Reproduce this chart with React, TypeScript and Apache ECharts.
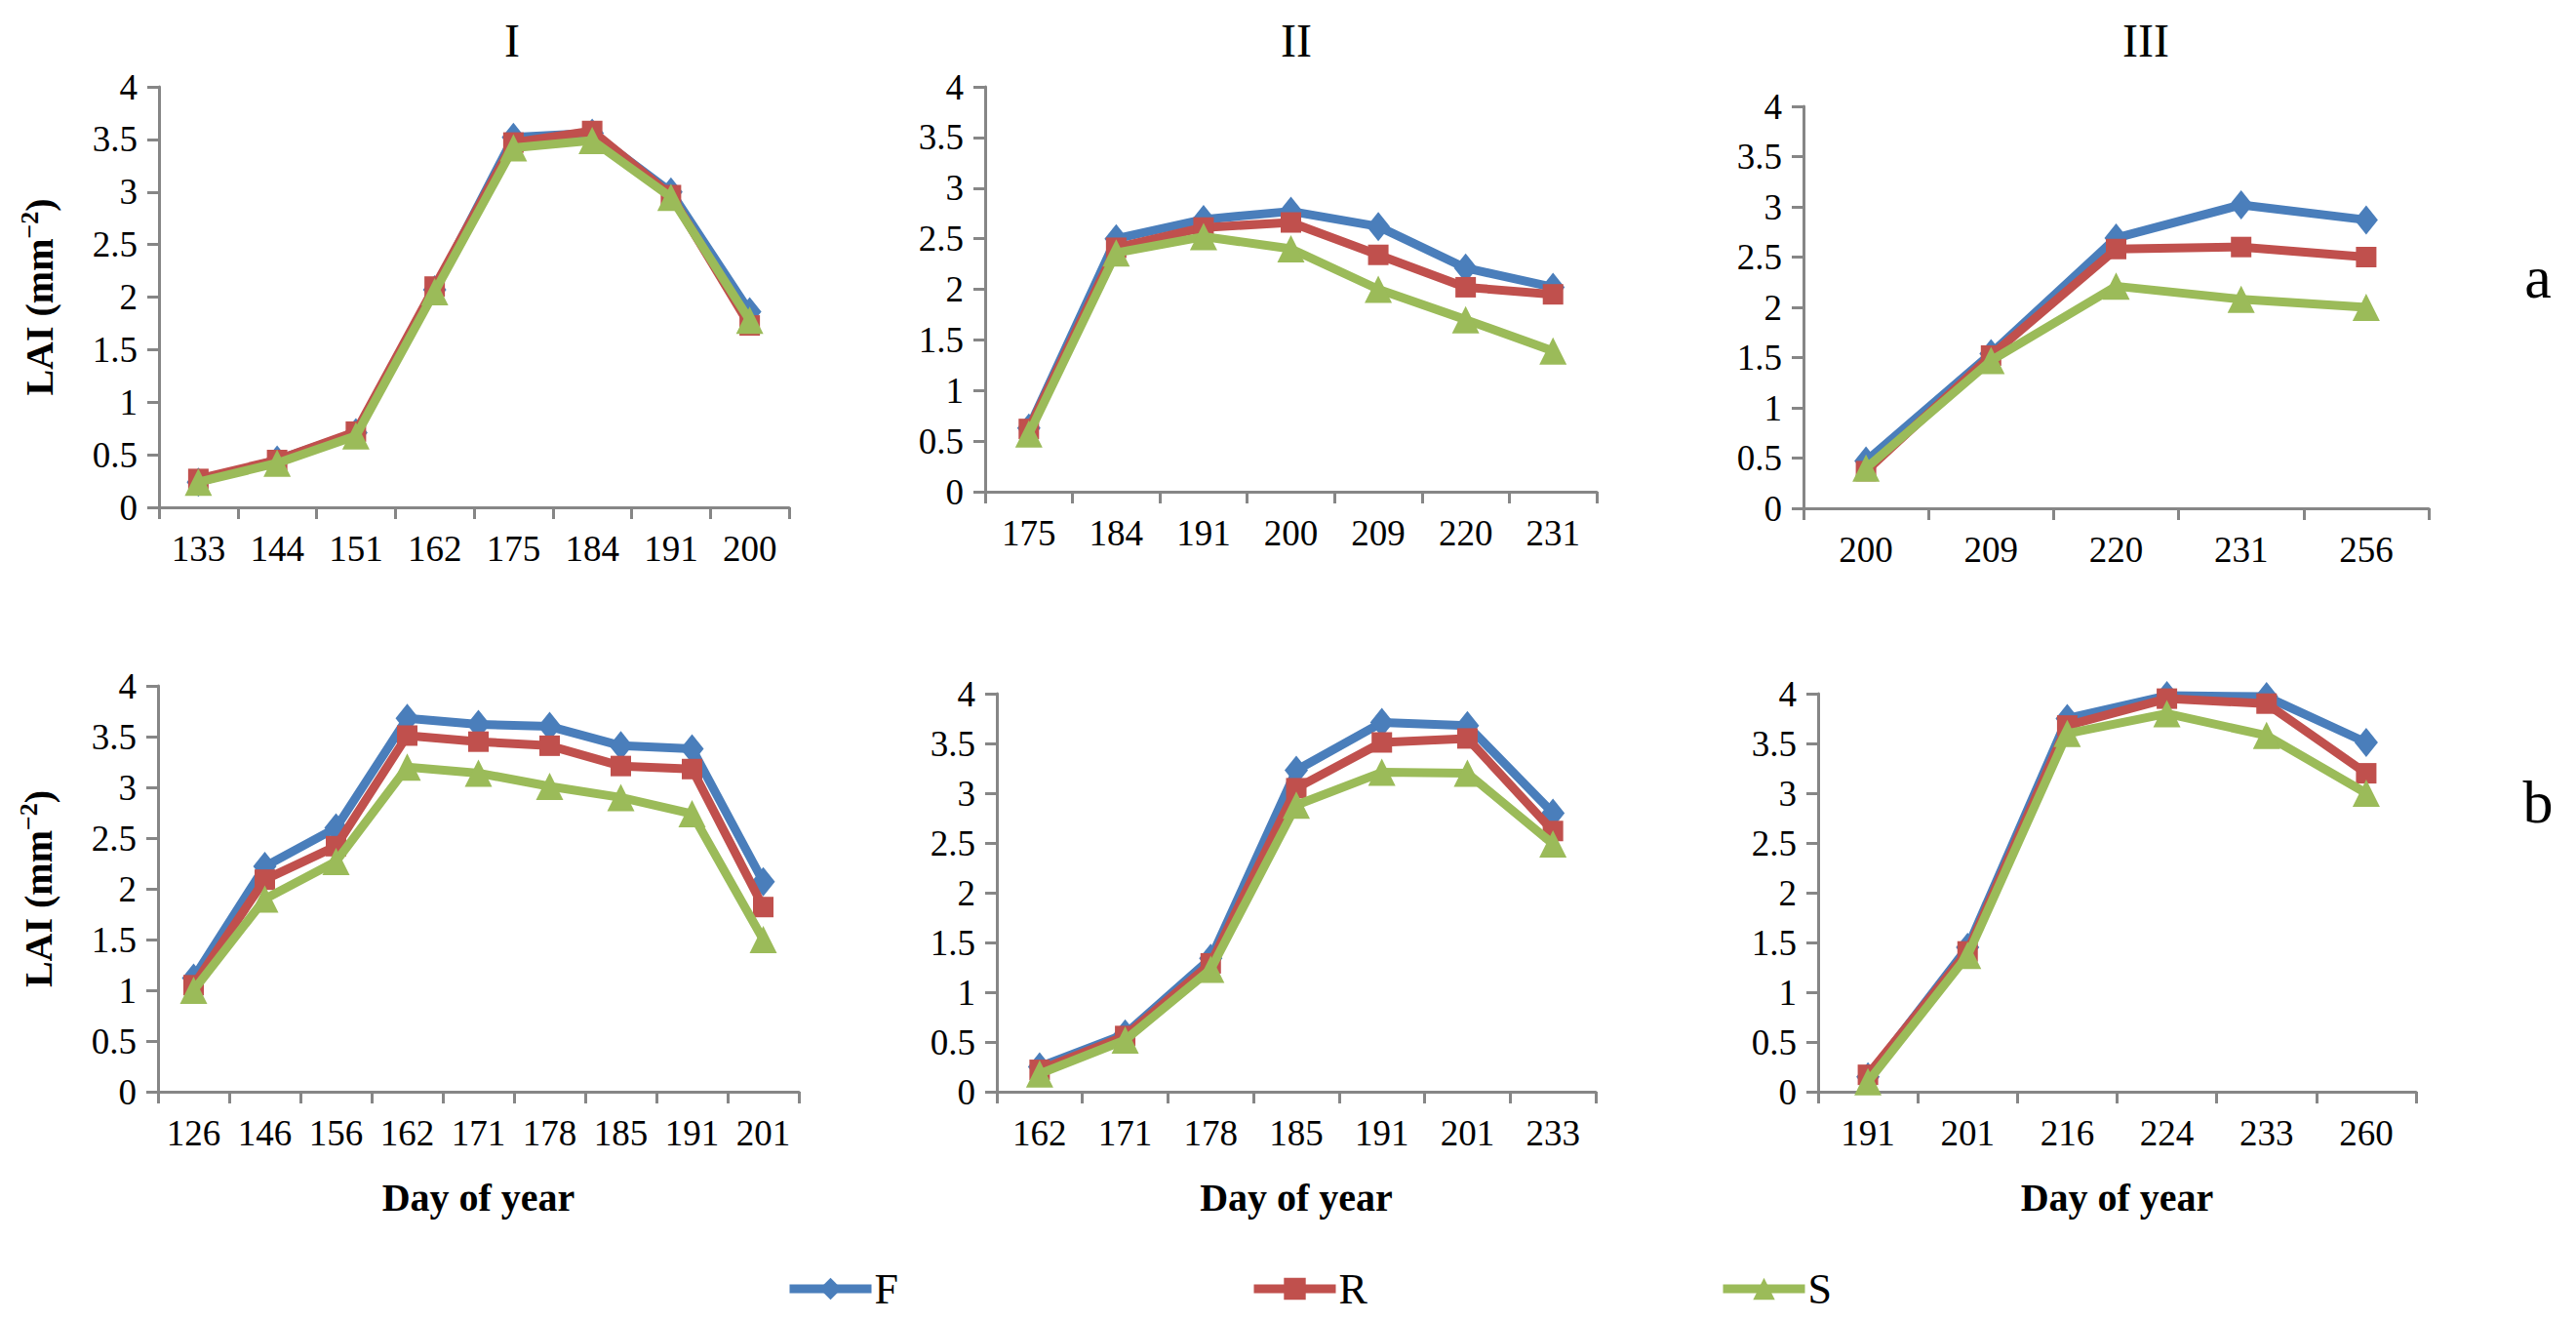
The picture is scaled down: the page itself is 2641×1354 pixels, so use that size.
import React, { useEffect, useRef } from "react";
import * as echarts from "echarts";

// ---------- data ----------
const daysIa = ["133", "144", "151", "162", "175", "184", "191", "200"];
const F_Ia = [0.24, 0.45, 0.71, 2.07, 3.52, 3.56, 3.0, 1.86];
const R_Ia = [0.27, 0.45, 0.72, 2.1, 3.47, 3.58, 2.97, 1.73];
const S_Ia = [0.24, 0.42, 0.68, 2.05, 3.42, 3.49, 2.95, 1.78];

const daysIIa = ["175", "184", "191", "200", "209", "220", "231"];
const F_IIa = [0.63, 2.5, 2.69, 2.77, 2.62, 2.21, 2.02];
const R_IIa = [0.62, 2.41, 2.61, 2.66, 2.34, 2.02, 1.95];
const S_IIa = [0.57, 2.36, 2.52, 2.4, 2.0, 1.7, 1.39];

const daysIIIa = ["200", "209", "220", "231", "256"];
const F_IIIa = [0.47, 1.54, 2.69, 3.02, 2.87];
const R_IIIa = [0.37, 1.52, 2.58, 2.6, 2.5];
const S_IIIa = [0.4, 1.47, 2.21, 2.08, 2.0];

const daysIb = ["126", "146", "156", "162", "171", "178", "185", "191", "201"];
const F_Ib = [1.12, 2.22, 2.6, 3.68, 3.62, 3.6, 3.41, 3.38, 2.07];
const R_Ib = [1.05, 2.09, 2.42, 3.51, 3.45, 3.41, 3.21, 3.18, 1.82];
const S_Ib = [1.0, 1.9, 2.27, 3.2, 3.14, 3.01, 2.9, 2.74, 1.5];

const daysIIb = ["162", "171", "178", "185", "191", "201", "233"];
const F_IIb = [0.25, 0.58, 1.34, 3.23, 3.71, 3.68, 2.8];
const R_IIb = [0.22, 0.56, 1.29, 3.05, 3.51, 3.55, 2.62];
const S_IIb = [0.18, 0.52, 1.23, 2.88, 3.21, 3.2, 2.49];

const daysIIIb = ["191", "201", "216", "224", "233", "260"];
const F_IIIb = [0.15, 1.45, 3.75, 3.98, 3.97, 3.51];
const R_IIIb = [0.17, 1.41, 3.68, 3.95, 3.9, 3.2];
const S_IIIb = [0.1, 1.37, 3.6, 3.8, 3.58, 3.0];

const panelTitles = ["I", "II", "III"];
const rowLabels = ["a", "b"];
const seriesNames = ["F", "R", "S"];
const yTitle = "LAI";
const xTitle = "Day of year";

const panels = [
  { days: daysIa, vals: [F_Ia, R_Ia, S_Ia] },
  { days: daysIIa, vals: [F_IIa, R_IIa, S_IIa] },
  { days: daysIIIa, vals: [F_IIIa, R_IIIa, S_IIIa] },
  { days: daysIb, vals: [F_Ib, R_Ib, S_Ib] },
  { days: daysIIb, vals: [F_IIb, R_IIb, S_IIb] },
  { days: daysIIIb, vals: [F_IIIb, R_IIIb, S_IIIb] },
];

// ---------- layout / style ----------
const W = 2641;
const H = 1354;
const FONT = "Liberation Serif, Times New Roman, serif";
const AXIS_COLOR = "#868686";
const COLORS = ["#4A7EBB", "#C0504D", "#9BBB59"];
const SYMBOLS = ["diamond", "rect", "triangle"];
const SYMBOL_SIZES: any[] = [[24, 30], 21, 28];

const grids = [
  { left: 163, top: 89, width: 646, height: 431 },
  { left: 1010, top: 89, width: 627, height: 415 },
  { left: 1849, top: 109, width: 641, height: 412 },
  { left: 162, top: 703, width: 657, height: 416 },
  { left: 1022, top: 711, width: 614, height: 408 },
  { left: 1864, top: 711, width: 613, height: 408 },
];

const titlePos = [
  { x: 525, y: 41 },
  { x: 1329, y: 41 },
  { x: 2200, y: 41 },
];
const rowLabelPos = [
  { x: 2602, y: 284 },
  { x: 2602, y: 822 },
];
const legendLeft = [800, 1276, 1757];

export default function App() {
  const ref = useRef<HTMLDivElement>(null);

  useEffect(() => {
    if (!ref.current) return;
    const chart = echarts.init(ref.current, null, { renderer: "svg" });

    const xAxes: any[] = [];
    const yAxes: any[] = [];
    const series: any[] = [];

    panels.forEach((p, i) => {
      const bottomRow = i >= 3;
      const leftCol = i % 3 === 0;
      xAxes.push({
        type: "category",
        gridIndex: i,
        data: p.days,
        boundaryGap: true,
        axisLine: { show: true, lineStyle: { color: AXIS_COLOR, width: 3 } },
        axisTick: { show: true, length: 12, lineStyle: { color: AXIS_COLOR, width: 3 } },
        axisLabel: {
          color: "#000",
          fontSize: 37,
          fontFamily: FONT,
          margin: 24,
          interval: 0,
          hideOverlap: false,
        },
        name: bottomRow ? xTitle : "",
        nameLocation: "middle",
        nameGap: 88,
        nameTextStyle: { color: "#000", fontSize: 40, fontWeight: "bold", fontFamily: FONT },
      });
      yAxes.push({
        type: "value",
        gridIndex: i,
        min: 0,
        max: 4,
        interval: 0.5,
        splitLine: { show: false },
        axisLine: { show: true, lineStyle: { color: AXIS_COLOR, width: 3 } },
        axisTick: { show: true, length: 12, lineStyle: { color: AXIS_COLOR, width: 3 } },
        axisLabel: { color: "#000", fontSize: 37, fontFamily: FONT, margin: 22 },
        name: leftCol ? "{b|" + yTitle + " (mm}{s|−2}{b|)}" : "",
        nameLocation: "middle",
        nameGap: 100,
        nameTextStyle: {
          color: "#000",
          fontFamily: FONT,
          rich: {
            b: { fontSize: 40, fontWeight: "bold", fontFamily: FONT, color: "#000", lineHeight: 46 },
            s: {
              fontSize: 26,
              fontWeight: "bold",
              fontFamily: FONT,
              color: "#000",
              verticalAlign: "top",
              lineHeight: 46,
              padding: [0, 0, 14, 0],
            },
          },
        },
      });
      p.vals.forEach((vals, k) => {
        series.push({
          type: "line",
          name: seriesNames[k],
          xAxisIndex: i,
          yAxisIndex: i,
          data: vals,
          symbol: SYMBOLS[k],
          symbolSize: SYMBOL_SIZES[k],
          showAllSymbol: true,
          lineStyle: { color: COLORS[k], width: 9 },
          itemStyle: { color: COLORS[k] },
          z: 2 + k,
        });
      });
    });

    const graphics: any[] = [];
    panelTitles.forEach((t, i) => {
      graphics.push({
        type: "text",
        x: titlePos[i].x,
        y: titlePos[i].y,
        style: {
          text: t,
          fontSize: 48,
          fontFamily: FONT,
          fill: "#000",
          align: "center",
          verticalAlign: "middle",
        },
      });
    });
    rowLabels.forEach((t, i) => {
      graphics.push({
        type: "text",
        x: rowLabelPos[i].x,
        y: rowLabelPos[i].y,
        style: {
          text: t,
          fontSize: 62,
          fontFamily: FONT,
          fill: "#000",
          align: "center",
          verticalAlign: "middle",
        },
      });
    });

    const legends = seriesNames.map((n, k) => ({
      data: [n],
      left: legendLeft[k],
      top: 1294,
      orient: "horizontal",
      itemWidth: 84,
      itemHeight: 28,
      itemGap: 0,
      lineStyle: { width: 9 },
      textStyle: { color: "#000", fontSize: 44, fontFamily: FONT, padding: [0, 0, 0, -2] },
    }));

    chart.setOption({
      animation: false,
      backgroundColor: "#fff",
      grid: grids.map((g) => ({ ...g, containLabel: false })),
      xAxis: xAxes,
      yAxis: yAxes,
      series,
      legend: legends,
      graphic: graphics,
    });

    return () => chart.dispose();
  }, []);

  return (
    <div
      ref={ref}
      style={{ position: "absolute", left: 0, top: 0, width: W, height: H }}
    />
  );
}
